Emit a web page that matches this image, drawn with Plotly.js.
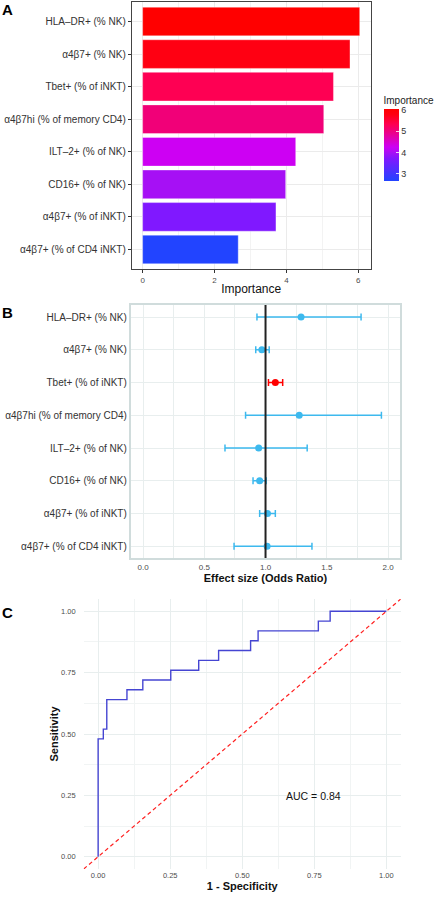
<!DOCTYPE html>
<html>
<head>
<meta charset="utf-8">
<script src="https://cdn.plot.ly/plotly-3.0.1.min.js"></script>
<style>html,body{margin:0;padding:0;background:#fff;}#chart{width:434px;height:900px;}</style>
</head>
<body>
<div id="chart"></div>
<script>
// ---- Data ----
const features = ["HLA–DR+ (% NK)", "α4β7+ (% NK)", "Tbet+ (% of iNKT)", "α4β7hi (% of memory CD4)",
  "ILT–2+ (% of NK)", "CD16+ (% of NK)", "α4β7+ (% of iNKT)", "α4β7+ (% of CD4 iNKT)"];
const importance = [6.04, 5.77, 5.31, 5.04, 4.26, 3.98, 3.71, 2.66];
const oddsRatio = [1.29, 0.97, 1.08, 1.275, 0.944, 0.952, 1.016, 1.013];
const ciLow = [0.93, 0.92, 1.024, 0.837, 0.669, 0.898, 0.952, 0.743];
const ciHigh = [1.78, 1.03, 1.14, 1.946, 1.34, 1.006, 1.08, 1.379];
const rocFpr = [0, 0, 0.018, 0.03, 0.10, 0.155, 0.252, 0.349, 0.418, 0.529, 0.555, 0.764, 0.805, 1.0];
const rocTpr = [0, 0.48, 0.52, 0.64, 0.68, 0.72, 0.76, 0.80, 0.84, 0.88, 0.92, 0.96, 1.0, 1.0];
const aucLabel = "AUC = 0.84";
const importanceTicks = [0, 2, 4, 6];
const orTicks = [0, 0.5, 1, 1.5, 2];
const orTickText = ["0.0", "0.5", "1.0", "1.5", "2.0"];
const rocTicks = [0, 0.25, 0.5, 0.75, 1];
const rocTickText = ["0.00", "0.25", "0.50", "0.75", "1.00"];

// ---- helpers ----
const W = 434, H = 900;
const px = v => v / W;
const py = v => 1 - v / H;
const FONT = "Liberation Sans, Arial, sans-serif";

const sigIdx = [], nsIdx = [];
features.forEach((f, i) => ((ciLow[i] > 1 || ciHigh[i] < 1) ? sigIdx : nsIdx).push(i));
function pick(arr, idx) { return idx.map(i => arr[i]); }
function orTrace(idx, color) {
  return {
    type: "scatter", mode: "markers", xaxis: "x2", yaxis: "y2",
    x: pick(oddsRatio, idx), y: pick(features, idx),
    marker: { color: color, size: 7 },
    error_x: {
      type: "data", symmetric: false,
      array: idx.map(i => ciHigh[i] - oddsRatio[i]),
      arrayminus: idx.map(i => oddsRatio[i] - ciLow[i]),
      color: color, thickness: 1.5, width: 3.5
    },
    hoverinfo: "x+y", showlegend: false
  };
}

const imin = Math.min(...importance), imax = Math.max(...importance);

const data = [
  {
    type: "bar", orientation: "h", xaxis: "x", yaxis: "y",
    x: importance, y: features, width: 0.88,
    marker: {
      color: importance, cmin: imin, cmax: imax,
      colorscale: [[0, "#2244FF"], [0.31, "#8018FF"], [0.39, "#A610F5"], [0.47, "#CC00F5"],
                   [0.70, "#F0007A"], [0.79, "#FF0050"], [0.92, "#FF0012"], [1, "#FF0000"]],
      line: { color: "rgba(255,255,255,0.6)", width: 0.6 },
      showscale: true,
      colorbar: {
        x: px(388), xanchor: "left", xpad: 0,
        y: py(93), yanchor: "top", ypad: 0,
        len: 88, lenmode: "pixels", thickness: 15,
        outlinewidth: 0,
        title: { text: "Importance", side: "top", font: { size: 10, color: "#222", family: FONT } },
        tickvals: [3, 4, 5, 6], ticks: "inside", ticklen: 3, tickcolor: "rgba(255,255,255,0.8)",
        tickfont: { size: 9, color: "#333", family: FONT }
      }
    },
    hoverinfo: "x+y", showlegend: false
  },
  orTrace(nsIdx, "#3DB9EE"),
  orTrace(sigIdx, "#FF0000"),
  {
    type: "scatter", mode: "lines", xaxis: "x3", yaxis: "y3",
    x: rocFpr, y: rocTpr, line: { color: "#4545D2", width: 1.4, shape: "hv" },
    hoverinfo: "x+y", showlegend: false
  }
];

const gridA = "#EBEBEB", gridB = "#E8EEEE";

const layout = {
  width: W, height: H,
  margin: { l: 0, r: 0, t: 0, b: 0 },
  paper_bgcolor: "#fff", plot_bgcolor: "#fff",
  font: { family: FONT, color: "#333" },
  showlegend: false,
  // ---- Panel A ----
  xaxis: {
    domain: [px(133), px(374)], anchor: "y", range: [-0.302, 6.342],
    tickvals: importanceTicks, ticks: "outside", ticklen: 3, tickcolor: "#333",
    tickfont: { size: 8, color: "#4D4D4D" },
    showgrid: true, gridcolor: gridA, zeroline: false,
    minor: { dtick: 1, tick0: 0, showgrid: true, gridcolor: "#F3F3F3" },
    showline: true, mirror: true, linecolor: "#444", linewidth: 1,
    title: { text: "Importance", font: { size: 12, color: "#111" }, standoff: 1 }
  },
  yaxis: {
    domain: [py(269), py(2)], anchor: "x", type: "category",
    categoryarray: features, range: [7.6, -0.6],
    ticks: "outside", ticklen: 3, tickcolor: "#333",
    tickfont: { size: 10, color: "#333" },
    showgrid: true, gridcolor: gridA,
    showline: true, mirror: true, linecolor: "#444", linewidth: 1
  },
  // ---- Panel B ----
  xaxis2: {
    domain: [px(132), px(404)], anchor: "y2", range: [-0.1, 2.1],
    tickvals: orTicks, ticktext: orTickText, ticks: "",
    tickfont: { size: 8, color: "#4D4D4D" },
    showgrid: true, gridcolor: gridB, zeroline: false,
    minor: { dtick: 0.25, tick0: 0, showgrid: true, gridcolor: gridB },
    showline: true, mirror: true, linecolor: "#D0DCDC", linewidth: 2,
    title: { text: "<b>Effect size (Odds Ratio)</b>", font: { size: 11, color: "#111" }, standoff: 3 }
  },
  yaxis2: {
    domain: [py(558), py(305)], anchor: "x2", type: "category",
    categoryarray: features, range: [7.36, -0.37], ticks: "",
    tickfont: { size: 10, color: "#333" },
    showgrid: true, gridcolor: gridB,
    showline: true, mirror: true, linecolor: "#D0DCDC", linewidth: 2
  },
  // ---- Panel C ----
  xaxis3: {
    domain: [px(84.5), px(404.5)], anchor: "y3", range: [-0.05, 1.05],
    tickvals: rocTicks, ticktext: rocTickText, ticks: "",
    tickfont: { size: 7.5, color: "#4D4D4D" },
    showgrid: true, gridcolor: gridB, zeroline: false, showline: false,
    minor: { dtick: 0.125, tick0: 0, showgrid: true, gridcolor: "#F1F4F4" },
    title: { text: "<b>1 - Specificity</b>", font: { size: 11, color: "#111" }, standoff: 3 }
  },
  yaxis3: {
    domain: [py(869), py(599)], anchor: "x3", range: [-0.05, 1.05],
    tickvals: rocTicks, ticktext: rocTickText, ticks: "", ticklabelstandoff: 7,
    tickfont: { size: 7.5, color: "#4D4D4D" },
    showgrid: true, gridcolor: gridB, zeroline: false, showline: false,
    minor: { dtick: 0.125, tick0: 0, showgrid: true, gridcolor: "#F1F4F4" },
    title: { text: "<b>Sensitivity</b>", font: { size: 11, color: "#111" }, standoff: 0 }
  },
  shapes: [
    { type: "line", xref: "x2", yref: "y2 domain", x0: 1, x1: 1, y0: 0, y1: 1,
      line: { color: "#222", width: 2 }, layer: "above" },
    { type: "line", xref: "x3", yref: "y3", x0: -0.05, y0: -0.05, x1: 1.05, y1: 1.05,
      line: { color: "#FF2020", width: 1.2, dash: "4px,3px" }, layer: "above" }
  ],
  annotations: [
    { xref: "paper", yref: "paper", x: 0, y: py(-1), xanchor: "left", yanchor: "top",
      text: "<b>A</b>", showarrow: false, font: { size: 15, color: "#000" } },
    { xref: "paper", yref: "paper", x: 0, y: py(302), xanchor: "left", yanchor: "top",
      text: "<b>B</b>", showarrow: false, font: { size: 15, color: "#000" } },
    { xref: "paper", yref: "paper", x: 0, y: py(602), xanchor: "left", yanchor: "top",
      text: "<b>C</b>", showarrow: false, font: { size: 15, color: "#000" } },
    { xref: "x3", yref: "y3", x: 0.748, y: 0.247, text: aucLabel, showarrow: false,
      font: { size: 10.5, color: "#111", family: "Liberation Sans Narrow, Arial Narrow, sans-serif" } }
  ]
};

Plotly.newPlot("chart", data, layout, { displayModeBar: false, staticPlot: true });
</script>
</body>
</html>
